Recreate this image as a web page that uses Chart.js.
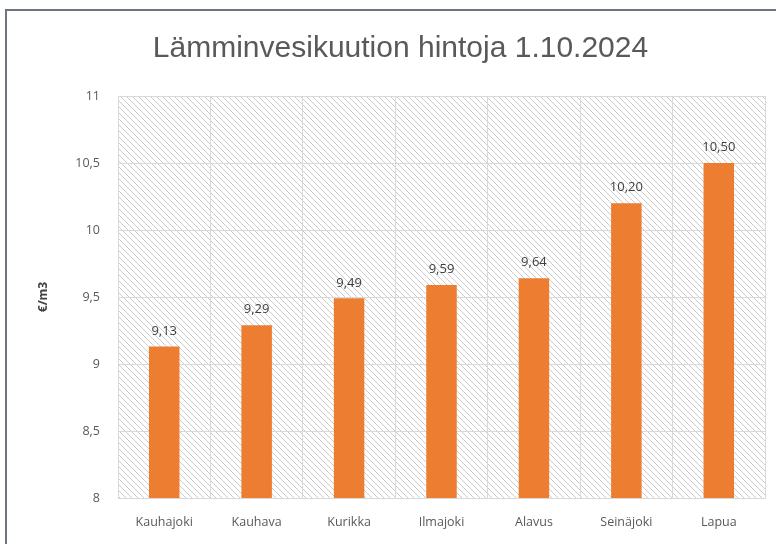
<!DOCTYPE html>
<html lang="fi">
<head>
    <meta charset="UTF-8">
    <title>Lämminvesikuution hintoja</title>
    <script src="https://cdn.jsdelivr.net/npm/chart.js"></script>
    <style>
        body { margin: 0; background: #ffffff; }
        .wrap { position: relative; width: 776px; height: 544px; overflow: hidden; }
        .frame {
            position: absolute; left: 5px; top: 9px; width: 800px; height: 600px;
            border-top: 2px solid #6b7480; border-left: 2px solid #6b7480;
        }
        #chart { position: absolute; left: 0; top: 0; }
    </style>
</head>
<body>
<div class="wrap">
    <div class="frame"></div>
    <canvas id="chart" width="776" height="544"></canvas>
</div>
<script>
    // data
    const kunnat = ['Kauhajoki', 'Kauhava', 'Kurikka', 'Ilmajoki', 'Alavus', 'Seinäjoki', 'Lapua'];
    const hinnat = [9.13, 9.29, 9.49, 9.59, 9.64, 10.20, 10.50];
    const otsikko = 'Lämminvesikuution hintoja 1.10.2024';
    const yksikko = '€/m3';

    const tekstiVari = '#595959';

    // vinoviivoitus taustalle
    function teeKuvio() {
        const c = document.createElement('canvas');
        c.width = 6; c.height = 6;
        const g = c.getContext('2d');
        g.strokeStyle = '#cccccc';
        g.lineWidth = 1;
        g.beginPath();
        g.moveTo(-1, -1); g.lineTo(7, 7);
        g.moveTo(-1, 5); g.lineTo(1, 7);
        g.moveTo(5, -1); g.lineTo(7, 1);
        g.stroke();
        return g.createPattern(c, 'repeat');
    }

    const taustaPlugin = {
        id: 'tausta',
        beforeDraw(chart) {
            const a = chart.chartArea, ctx = chart.ctx;
            ctx.save();
            ctx.fillStyle = teeKuvio();
            ctx.fillRect(a.left, a.top, a.right - a.left, a.bottom - a.top);
            ctx.restore();
        }
    };

    const arvoPlugin = {
        id: 'arvot',
        afterDatasetsDraw(chart) {
            const ctx = chart.ctx;
            const meta = chart.getDatasetMeta(0);
            ctx.save();
            ctx.font = '13px "Open Sans", sans-serif';
            ctx.fillStyle = '#404040';
            ctx.textAlign = 'center';
            ctx.textBaseline = 'bottom';
            meta.data.forEach((bar, i) => {
                ctx.fillText(hinnat[i].toFixed(2).replace('.', ','), bar.x, bar.y - 9);
            });
            ctx.restore();
        }
    };

    new Chart(document.getElementById('chart'), {
        type: 'bar',
        data: {
            labels: kunnat,
            datasets: [{
                data: hinnat,
                backgroundColor: '#ED7D31',
                categoryPercentage: 1,
                barPercentage: 0.33
            }]
        },
        options: {
            responsive: false,
            animation: false,
            layout: { padding: { left: 36, right: 11, top: 12, bottom: 2 } },
            plugins: {
                legend: { display: false },
                tooltip: { enabled: false },
                title: {
                    display: true,
                    text: otsikko,
                    color: tekstiVari,
                    font: { family: '"Liberation Sans", sans-serif', size: 30, weight: 'normal' },
                    padding: { top: 19, bottom: 29 }
                }
            },
            scales: {
                x: {
                    grid: { color: '#d9d9d9', offset: true, drawTicks: false },
                    border: { color: '#d9d9d9' },
                    ticks: { color: tekstiVari, font: { family: '"Open Sans", sans-serif', size: 12.5 }, padding: 17 },
                    afterFit(scale) { scale.height = 44; }
                },
                y: {
                    min: 8, max: 11,
                    grid: { color: '#d9d9d9', drawTicks: false },
                    border: { display: false },
                    ticks: {
                        stepSize: 0.5, color: tekstiVari, padding: 18,
                        font: { family: '"Open Sans", sans-serif', size: 12.5 },
                        callback: v => String(v).replace('.', ',')
                    },
                    title: {
                        display: true, text: yksikko, color: '#404040',
                        font: { family: '"Open Sans", sans-serif', size: 12, weight: 'bold' },
                        padding: { top: 0, bottom: 14 }
                    },
                    afterFit(scale) { scale.width = 82; }
                }
            }
        },
        plugins: [taustaPlugin, arvoPlugin]
    });
</script>
</body>
</html>
